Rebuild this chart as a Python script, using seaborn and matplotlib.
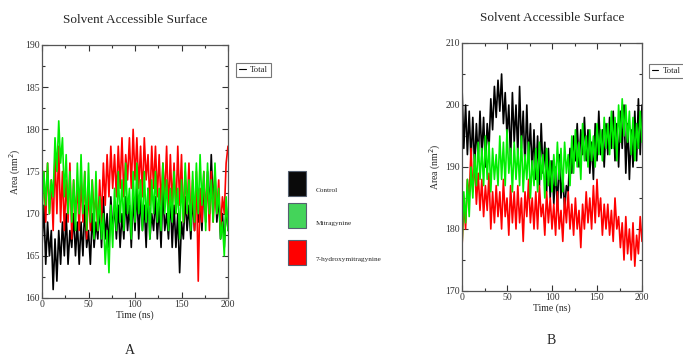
import numpy as np
import pandas as pd
import matplotlib
matplotlib.use("Agg")
import matplotlib.pyplot as plt
from matplotlib.lines import Line2D
from matplotlib.patches import Rectangle
from matplotlib.ticker import MultipleLocator
import seaborn as sns

sns.set_theme(style="white")
plt.rcParams['font.family'] = ['Liberation Serif', 'DejaVu Serif']

time_ns = list(range(0, 201, 2))
series_names = ["Control", "Mitragynine", "7-hydroxymitragynine"]

# Panel A
a_control = [166,171,164,169,165,168, 161,167,162,168,164,
             169,165,170,164,168,166,170,165,169,164,
             169,165,171,166,168,164,170,166,169,167,
             171,166,172,167,170,166,172,168,171,167,
             171,166,170,167,172,168,171,166,172,168,
             173,167,172,168,171,166,173,167,170,168,
             172,167,171,166,173,168,170,167,172,166,
             171,166,170,163,169,167,172,168,171,167,
             172,168,173,169,171,168,174,169,175,170,
             177,171,175,169,172,167,170,166,171,168]
a_mitra = [169,175,171,176,170,174, 172,179,175,181,176,
           179,172,177,170,175,169,174,168,176,170,
           177,170,175,168,176,169,174,167,175,168,
           172,167,170,164,168,163,171,166,173,168,
           175,169,174,168,176,170,173,167,175,169,
           176,170,174,168,175,169,173,167,174,170,
           175,169,173,168,176,170,174,168,173,169,
           175,170,173,167,174,169,176,170,174,168,
           175,169,176,170,177,171,175,168,176,170,
           174,169,176,170,173,167,169,165,172,168]
a_hydroxy = [171,175,169,176,170,174, 168,177,170,178,169,
             175,168,174,169,176,167,174,170,173,168,
             174,169,175,167,173,168,174,170,172,168,
             174,169,176,171,177,172,178,173,177,172,
             178,173,179,172,177,174,179,173,180,174,
             179,173,178,172,179,174,177,171,178,173,
             178,172,177,171,176,172,178,170,177,171,
             176,170,178,171,177,169,175,170,176,169,
             174,168,175,162,173,169,175,170,174,168,
             175,169,173,170,174,168,172,170,176,178]

# Panel B
b_control = [203,193,200,192,199,191, 198,190,197,191,199,
             192,198,190,197,193,201,196,203,198,204,
             199,205,197,202,195,200,191,202,194,200,
             192,203,193,199,190,200,191,197,189,196,
             188,195,187,197,189,194,186,193,185,191,
             184,190,183,192,185,189,183,187,186,193,
             189,195,191,197,190,196,192,198,191,196,
             189,194,188,197,191,199,192,196,190,197,
             192,198,193,199,191,197,190,199,193,200,
             189,197,188,196,190,199,191,201,192,200]
b_mitra = [177,186,181,188,182,190, 185,192,187,194,188,
           193,187,195,188,194,186,193,188,192,187,
           195,188,194,187,196,189,193,186,194,188,
           193,187,195,186,192,188,194,185,191,187,
           193,186,194,188,192,185,193,187,191,186,
           192,187,194,188,193,186,194,189,192,187,
           195,189,196,190,194,188,197,191,195,190,
           196,191,195,190,197,192,196,191,198,193,
           197,192,199,193,198,191,200,194,201,195,
           200,194,199,192,198,191,197,193,199,194]
b_hydroxy = [177,184,180,188,185,193, 186,191,184,189,183,
             188,182,187,183,189,180,186,181,187,182,
             186,180,188,182,185,179,187,181,186,180,
             187,181,185,178,186,182,188,181,185,180,
             186,180,187,182,184,179,186,181,185,180,
             184,179,186,180,183,178,185,181,186,180,
             184,179,185,180,183,177,184,180,186,181,
             185,180,187,181,188,182,185,179,184,180,
             184,179,183,178,185,180,182,177,181,175,
             182,176,180,175,181,174,179,176,182,178]

x_ticks = [0, 50, 100, 150, 200]
a_yticks = [160, 165, 170, 175, 180, 185, 190]
b_yticks = [170, 180, 190, 200, 210]

line_pal = {"Control": "#000000", "Mitragynine": "#00ee00", "7-hydroxymitragynine": "#ff0000"}
box_pal = {"Control": "#0a0a0a", "Mitragynine": "#44d45a", "7-hydroxymitragynine": "#ff0000"}
draw_order = ["Control", "7-hydroxymitragynine", "Mitragynine"]


def make_df(control, mitra, hydroxy):
    data = {"Control": control, "Mitragynine": mitra, "7-hydroxymitragynine": hydroxy}
    rows = [pd.DataFrame({"time": time_ns, "area": data[n], "series": n}) for n in draw_order]
    df = pd.concat(rows, ignore_index=True)
    df["series"] = pd.Categorical(df["series"], draw_order)
    return df


dfA = make_df(a_control, a_mitra, a_hydroxy)
dfB = make_df(b_control, b_mitra, b_hydroxy)

fig = plt.figure(figsize=(6.83, 3.58), dpi=100)
W, H = 683, 358
axA = fig.add_axes([42 / W, 1 - 298 / H, 186 / W, 253 / H])
axB = fig.add_axes([462 / W, 1 - 291 / H, 180 / W, 248 / H])


def style(ax, df, yt, ymin, ymax, yminor, leg_x, leg_y):
    sns.lineplot(data=df, x="time", y="area", hue="series", hue_order=draw_order,
                 palette=line_pal, estimator=None, legend=False, lw=1.2, ax=ax)
    ax.set_xlim(0, 200)
    ax.set_ylim(ymin, ymax)
    ax.set_xticks(x_ticks)
    ax.set_yticks(yt)
    ax.xaxis.set_minor_locator(MultipleLocator(25))
    ax.yaxis.set_minor_locator(MultipleLocator(yminor))
    ax.tick_params(which="both", direction="in", top=True, right=True,
                   bottom=True, left=True, labelsize=7, pad=1.5, width=0.8,
                   colors="#333333")
    ax.tick_params(which="major", length=4)
    ax.tick_params(which="minor", length=2)
    for s in ax.spines.values():
        s.set_color("#555555")
        s.set_linewidth(0.9)
    ax.set_xlabel("Time (ns)", fontsize=7, labelpad=1)
    ax.set_ylabel("Area (nm$^2$)", fontsize=7, labelpad=2)
    ax.set_title("Solvent Accessible Surface", fontsize=9.5, pad=16)
    leg = ax.legend([Line2D([], [], color="black", lw=0.8)], ["Total"],
                    loc="upper left", bbox_to_anchor=(leg_x, leg_y), fontsize=6.3,
                    frameon=True, fancybox=False, handlelength=0.7,
                    handletextpad=0.5, borderpad=0.35, borderaxespad=0.0,
                    edgecolor="#555555")
    leg.get_frame().set_linewidth(0.8)


style(axA, dfA, a_yticks, 160, 190, 2.5, 1.045, 0.929)
style(axB, dfB, b_yticks, 170, 210, 5, 1.04, 0.915)

# Middle legend
legend_y = [171, 203, 240]
for name, y in zip(series_names, legend_y):
    fig.add_artist(Rectangle((288 / W, 1 - (y + 25) / H), 18 / W, 25 / H,
                             transform=fig.transFigure, facecolor=box_pal[name],
                             edgecolor="#556070", lw=0.8))
    fig.text(316 / W, 1 - (y + 20) / H, name, fontsize=5.2, va="center", ha="left")

fig.text(130 / W, 1 - 350 / H, "A", fontsize=10, ha="center", va="center")
fig.text(551 / W, 1 - 341 / H, "B", fontsize=10, ha="center", va="center")

fig.savefig("out.png", dpi=100)
